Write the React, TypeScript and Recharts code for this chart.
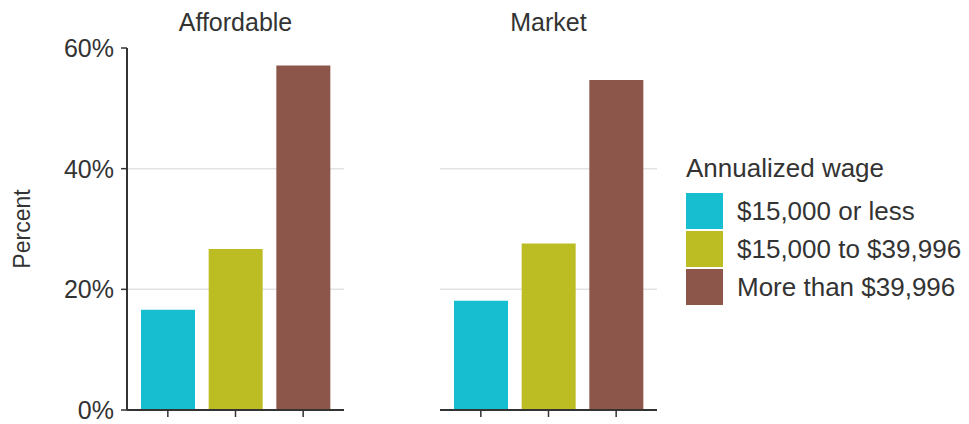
import { BarChart, Bar, XAxis, YAxis, CartesianGrid, Cell, Legend, Label } from "recharts";

const wageBands = ["$15,000 or less", "$15,000 to $39,996", "More than $39,996"];
const affordableShare = [16.6, 26.7, 57.1];
const marketShare = [18.1, 27.6, 54.7];
const percentTicks = [0, 20, 40, 60];
const gridValues = [20, 40];
const bandColors = ["#17becf", "#bcbd22", "#8c564b"];

const FONT = "'Liberation Sans', Arial, sans-serif";
const TEXT = "#333333";
const AXIS = "#333333";

const affordableData = wageBands.map((band, i) => ({ band, share: affordableShare[i] }));
const marketData = wageBands.map((band, i) => ({ band, share: marketShare[i] }));

function WageLegend() {
  return (
    <div style={{ fontFamily: FONT, color: TEXT }}>
      <div style={{ fontSize: 26, lineHeight: "30px", marginBottom: 9 }}>Annualized wage</div>
      {wageBands.map((band, i) => (
        <div key={band} style={{ display: "flex", alignItems: "center", height: 38 }}>
          <span style={{ width: 37, height: 36, background: bandColors[i], flexShrink: 0 }} />
          <span style={{ fontSize: 26, marginLeft: 14, whiteSpace: "nowrap" }}>{band}</span>
        </div>
      ))}
    </div>
  );
}

function Panel({
  data,
  title,
  left,
  width,
  showY,
}: {
  data: { band: string; share: number }[];
  title: string;
  left: number;
  width: number;
  showY: boolean;
}) {
  const yAxisWidth = showY ? 127 : 0;
  const marginRight = showY ? 0 : width - 217;
  return (
    <div style={{ position: "absolute", left, top: 0, width, height: 424 }}>
      <div
        style={{
          position: "absolute",
          top: 10,
          left: yAxisWidth,
          width: 217,
          textAlign: "center",
          fontFamily: FONT,
          fontSize: 25,
          lineHeight: "25px",
          color: TEXT,
        }}
      >
        {title}
      </div>
      <BarChart
        width={width}
        height={424}
        data={data}
        margin={{ top: 48, right: marginRight, bottom: 0, left: 0 }}
        barCategoryGap={7}
      >
        <CartesianGrid vertical={false} horizontalValues={gridValues} stroke="#e3e3e3" strokeWidth={1.5} />
        <XAxis
          dataKey="band"
          height={14}
          padding={{ left: 7, right: 7 }}
          tickFormatter={() => ""}
          tickSize={7}
          axisLine={{ stroke: AXIS, strokeWidth: 2 }}
          tickLine={{ stroke: AXIS, strokeWidth: 1.5 }}
        />
        <YAxis
          hide={!showY}
          width={yAxisWidth}
          domain={[0, 60]}
          ticks={percentTicks}
          tickFormatter={(v) => `${v}%`}
          tickSize={6}
          tickMargin={7}
          tick={{ fontSize: 25, fill: TEXT, fontFamily: FONT }}
          axisLine={{ stroke: AXIS, strokeWidth: 2 }}
          tickLine={{ stroke: AXIS, strokeWidth: 1.5 }}
        >
          {showY && (
            <Label
              content={() => (
                <text
                  x={22}
                  y={229}
                  transform="rotate(-90 22 229)"
                  textAnchor="middle"
                  dominantBaseline="central"
                  fontSize={23}
                  fontFamily={FONT}
                  fill={TEXT}
                >
                  Percent
                </text>
              )}
            />
          )}
        </YAxis>
        <Bar dataKey="share" isAnimationActive={false}>
          {data.map((d, i) => (
            <Cell key={d.band} fill={bandColors[i]} />
          ))}
        </Bar>
        {!showY && (
          <Legend
            layout="vertical"
            align="center"
            verticalAlign="middle"
            content={() => <WageLegend />}
            wrapperStyle={{ position: "absolute", left: 246, top: 153, width: 290 }}
          />
        )}
      </BarChart>
    </div>
  );
}

export default function App() {
  return (
    <div style={{ position: "absolute", left: 0, top: 0, width: 969, height: 424, background: "#fff" }}>
      <Panel data={affordableData} title="Affordable" left={0} width={344} showY />
      <Panel data={marketData} title="Market" left={440} width={529} showY={false} />
    </div>
  );
}
